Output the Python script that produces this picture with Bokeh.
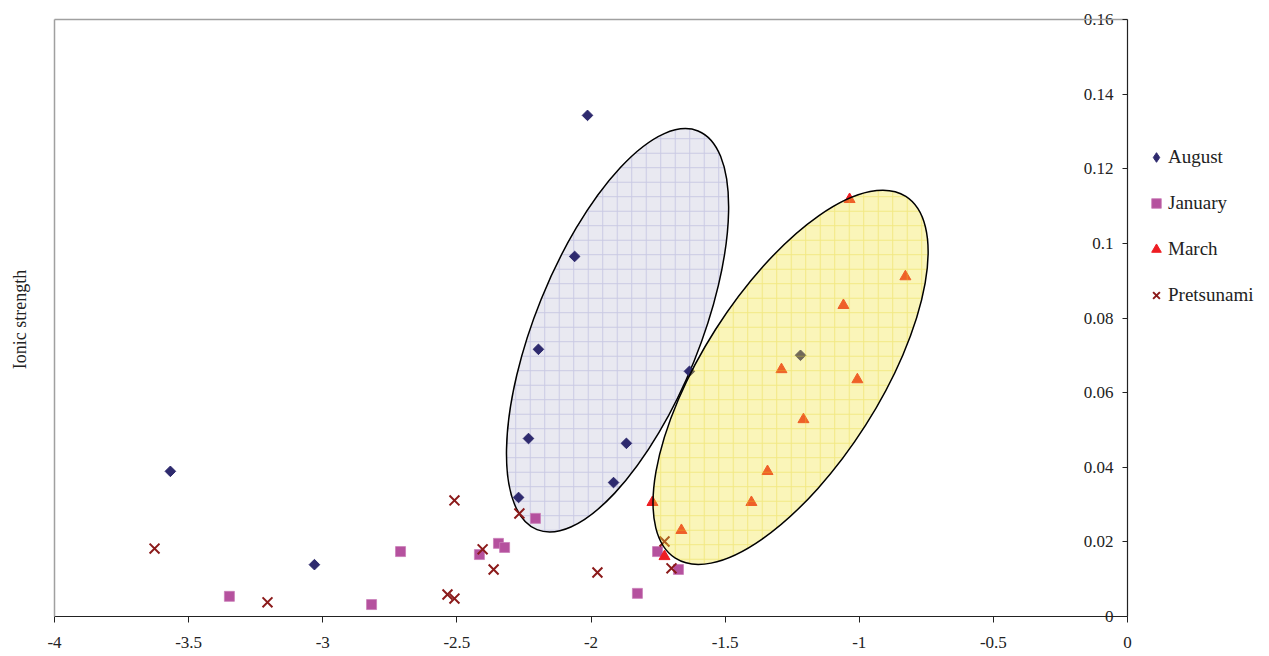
import numpy as np
from bokeh.plotting import figure
from bokeh.models import (Range1d, LinearAxis, FixedTicker, Legend, LegendItem, Label)
from bokeh.core.properties import value
from bokeh.embed import file_html
from bokeh.resources import INLINE

# ---------------- data ----------------
august_x = [-3.568, -3.031, -2.013, -2.061, -2.196, -2.233, -2.270, -1.916, -1.868, -1.633, -1.219]
august_y = [0.0389, 0.0139, 0.1343, 0.0965, 0.0716, 0.0477, 0.0319, 0.0359, 0.0464, 0.0657, 0.0700]

january_x = [-3.348, -2.818, -2.710, -2.416, -2.345, -2.322, -2.207, -1.827, -1.752, -1.674]
january_y = [0.0054, 0.0032, 0.0174, 0.0166, 0.0196, 0.0185, 0.0263, 0.0062, 0.0174, 0.0126]

march_x = [-1.036, -0.828, -1.059, -1.290, -1.007, -1.208, -1.342, -1.402, -1.771, -1.663, -1.726]
march_y = [0.1118, 0.0911, 0.0834, 0.0662, 0.0635, 0.0528, 0.0389, 0.0306, 0.0306, 0.0231, 0.0161]

pretsunami_x = [-3.627, -3.206, -2.535, -2.509, -2.509, -2.404, -2.363, -2.267, -1.976, -1.726, -1.700]
pretsunami_y = [0.0182, 0.0038, 0.0059, 0.0048, 0.0311, 0.0180, 0.0126, 0.0276, 0.0118, 0.0201, 0.0129]

# cluster ellipses (centres in data units)
cluster_x = [-1.901, -1.256]
cluster_y = [0.0767, 0.0641]

x_ticks = [-4, -3.5, -3, -2.5, -2, -1.5, -1, -0.5, 0]
x_tick_labels = ["-4", "-3.5", "-3", "-2.5", "-2", "-1.5", "-1", "-0.5", "0"]
y_ticks = [0, 0.02, 0.04, 0.06, 0.08, 0.1, 0.12, 0.14, 0.16]
y_tick_labels = ["0", "0.02", "0.04", "0.06", "0.08", "0.1", "0.12", "0.14", "0.16"]

series_names = ["August", "January", "March", "Pretsunami"]
y_title = "Ionic strength"

X_MIN, X_MAX = -4, 0
Y_MIN, Y_MAX = 0, 0.16

# ---------------- layout (pixels) ----------------
W, H = 1269, 656
BOX_L, BOX_R, BOX_T, BOX_B = 54, 1127, 19, 616    # plot area inside the canvas
sx = (BOX_R - BOX_L) / (X_MAX - X_MIN)
sy = (BOX_B - BOX_T) / (Y_MAX - Y_MIN)

FONT = "Liberation Serif"
TXT = "#222222"
NAVY, MAGENTA, RED, DARKRED = "#2E2A6E", "#B5519E", "#EE1D23", "#8B1A1A"

# the frame covers the whole canvas; axes are drawn at fixed data locations
p = figure(width=W, height=H,
           x_range=Range1d(X_MIN - BOX_L / sx, X_MAX + (W - BOX_R) / sx),
           y_range=Range1d(Y_MIN - (H - BOX_B) / sy, Y_MAX + BOX_T / sy),
           output_backend="svg", toolbar_location=None,
           x_axis_location=None, y_axis_location=None,
           min_border_left=0, min_border_right=0, min_border_top=0, min_border_bottom=0)
p.grid.visible = False
p.outline_line_color = None
p.background_fill_color = "white"
p.border_fill_color = "white"


def line_axis(ticks, fixed, bounds, color, width, tick_in=0):
    ax = LinearAxis(ticker=FixedTicker(ticks=ticks), fixed_location=fixed, bounds=bounds,
                    major_label_overrides={t: "" for t in ticks})
    ax.major_label_text_font_size = "0px"
    ax.major_label_standoff = 0
    ax.major_tick_out = 0
    ax.major_tick_in = tick_in
    ax.minor_tick_line_color = None
    ax.axis_line_color = color
    ax.axis_line_width = width
    ax.major_tick_line_color = color
    ax.major_tick_line_width = 1
    return ax


# grey plot-area border (top and left)
p.add_layout(line_axis([], Y_MAX, (X_MIN, X_MAX), "#a0a0a0", 1.5), "above")
p.add_layout(line_axis([], X_MIN, (Y_MIN, Y_MAX), "#a0a0a0", 1.5), "left")

# x axis along y = 0 with ticks pointing down
p.add_layout(line_axis(x_ticks, Y_MIN, (X_MIN, X_MAX), TXT, 1.2, tick_in=6), "above")
# y axis along x = 0 with ticks pointing left
p.add_layout(line_axis(y_ticks, X_MAX, (Y_MIN, Y_MAX), TXT, 1.2, tick_in=5), "right")

# tick labels
p.text(x=x_ticks, y=[Y_MIN] * len(x_ticks), text=x_tick_labels, y_offset=26,
       text_align="center", text_baseline="middle", text_font=value(FONT),
       text_font_size="17px", text_color=TXT)
p.text(x=[X_MAX] * len(y_ticks), y=y_ticks, text=y_tick_labels, x_offset=-14,
       text_align="right", text_baseline="middle", text_font=value(FONT),
       text_font_size="17px", text_color=TXT)

# y title
p.add_layout(Label(x=19, y=H - 319, x_units="screen", y_units="screen", text=y_title,
                   angle=90, angle_units="deg", text_align="center",
                   text_baseline="middle", text_font=FONT, text_font_size="18px",
                   text_color=TXT))

# blue cluster ellipse (underneath the points)
p.ellipse(x=[cluster_x[0]], y=[cluster_y[0]], width=430, height=165, angle=68,
          angle_units="deg", width_units="screen", height_units="screen",
          fill_color="#E9E9F1", fill_alpha=1.0, line_color="black", line_width=1.5,
          hatch_pattern="+", hatch_color="#A9A9D6", hatch_alpha=0.5,
          hatch_scale=14.5, hatch_weight=1)

r_aug = p.scatter(august_x, august_y, marker="square", angle=45, angle_units="deg",
                  size=7.5, fill_color=NAVY, line_color=NAVY)
r_jan = p.scatter(january_x, january_y, marker="square", size=10,
                  fill_color=MAGENTA, line_color="#C97DB8", line_width=0.8)
r_mar = p.scatter(march_x, march_y, marker="triangle", size=11,
                  fill_color=RED, line_color=RED)
r_pre = p.scatter(pretsunami_x, pretsunami_y, marker="x", size=14,
                  line_color=DARKRED, line_width=2)
# hidden twin of the August series, used only for its diamond legend swatch
r_aug_key = p.scatter(august_x, august_y, marker="diamond", size=10,
                      fill_color=NAVY, line_color=NAVY, visible=False)

# yellow cluster ellipse (translucent, on top)
p.ellipse(x=[cluster_x[1]], y=[cluster_y[1]], width=429, height=178, angle=57.5,
          angle_units="deg", width_units="screen", height_units="screen",
          fill_color="#F0E233", fill_alpha=0.34, line_color="black", line_width=1.5,
          hatch_pattern="+", hatch_color="#E2D21E", hatch_alpha=0.35,
          hatch_scale=14.5, hatch_weight=1)

legend = Legend(items=[LegendItem(label=n, renderers=[r]) for n, r in
                       zip(series_names, [r_aug_key, r_jan, r_mar, r_pre])],
                location=(1144, H - 308), orientation="vertical")
legend.border_line_color = None
legend.background_fill_alpha = 0
legend.padding = 0
legend.margin = 0
legend.spacing = 20
legend.glyph_width = 24
legend.glyph_height = 26
legend.label_height = 26
legend.label_standoff = 0
legend.label_text_font = FONT
legend.label_text_font_size = "19px"
legend.label_text_color = TXT
legend.label_text_baseline = "middle"
legend.inactive_fill_alpha = 0
p.add_layout(legend, "center")

open("out.html", "w").write(file_html(p, INLINE))
